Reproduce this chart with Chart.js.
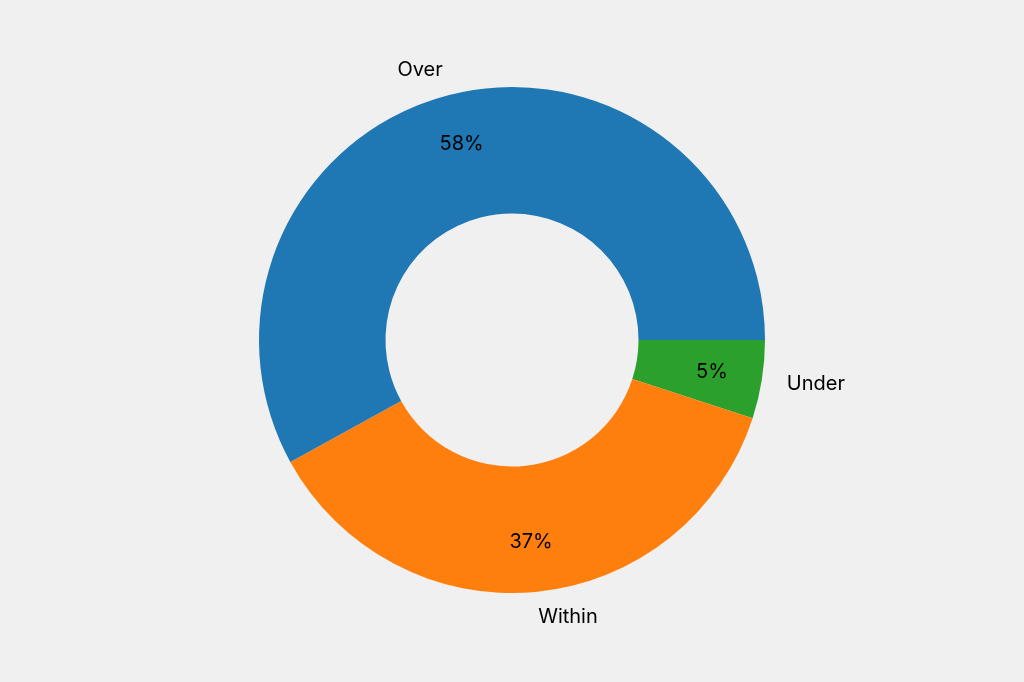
<!DOCTYPE html>
<html><head><meta charset="utf-8">
<script src="https://cdn.jsdelivr.net/npm/chart.js@4/dist/chart.umd.min.js"></script>
<style>html,body{margin:0;background:#f0f0f0;}canvas{display:block}</style>
</head><body>
<canvas id="c" width="1024" height="682"></canvas>
<script>
const categories = ["Under", "Within", "Over"];
const values = [5, 37, 58];
const colors = ["#2ca02c", "#ff7f0e", "#1f77b4"];

const labelPlugin = {
  id: 'labels',
  afterDatasetsDraw(chart) {
    const ctx = chart.ctx;
    const meta = chart.getDatasetMeta(0);
    const total = values.reduce((a, b) => a + b, 0);
    ctx.save();
    ctx.fillStyle = '#000';
    ctx.font = '20px Inter, "Noto Sans", sans-serif';
    ctx.textBaseline = 'middle';
    meta.data.forEach((arc, i) => {
      const mid = (arc.startAngle + arc.endAngle) / 2;
      const r = arc.outerRadius;
      const cx = arc.x, cy = arc.y;
      const px = cx + Math.cos(mid) * r * 0.8, py = cy + Math.sin(mid) * r * 0.8;
      ctx.textAlign = 'center';
      ctx.fillText(Math.round(values[i] / total * 100) + '%', px, py);
      const lx = cx + Math.cos(mid) * r * 1.1, ly = cy + Math.sin(mid) * r * 1.1;
      ctx.textAlign = Math.cos(mid) >= 0 ? 'left' : 'right';
      ctx.fillText(categories[i], lx, ly);
    });
    ctx.restore();
  }
};

new Chart(document.getElementById('c'), {
  type: 'doughnut',
  data: { labels: categories, datasets: [{ data: values, backgroundColor: colors, borderWidth: 0 }] },
  options: {
    responsive: false,
    animation: false,
    rotation: 90,
    cutout: '50%',
    layout: { padding: { top: 87, bottom: 89, left: 0, right: 0 } },
    plugins: { legend: { display: false }, tooltip: { enabled: false } }
  },
  plugins: [labelPlugin]
});
</script>
</body></html>
